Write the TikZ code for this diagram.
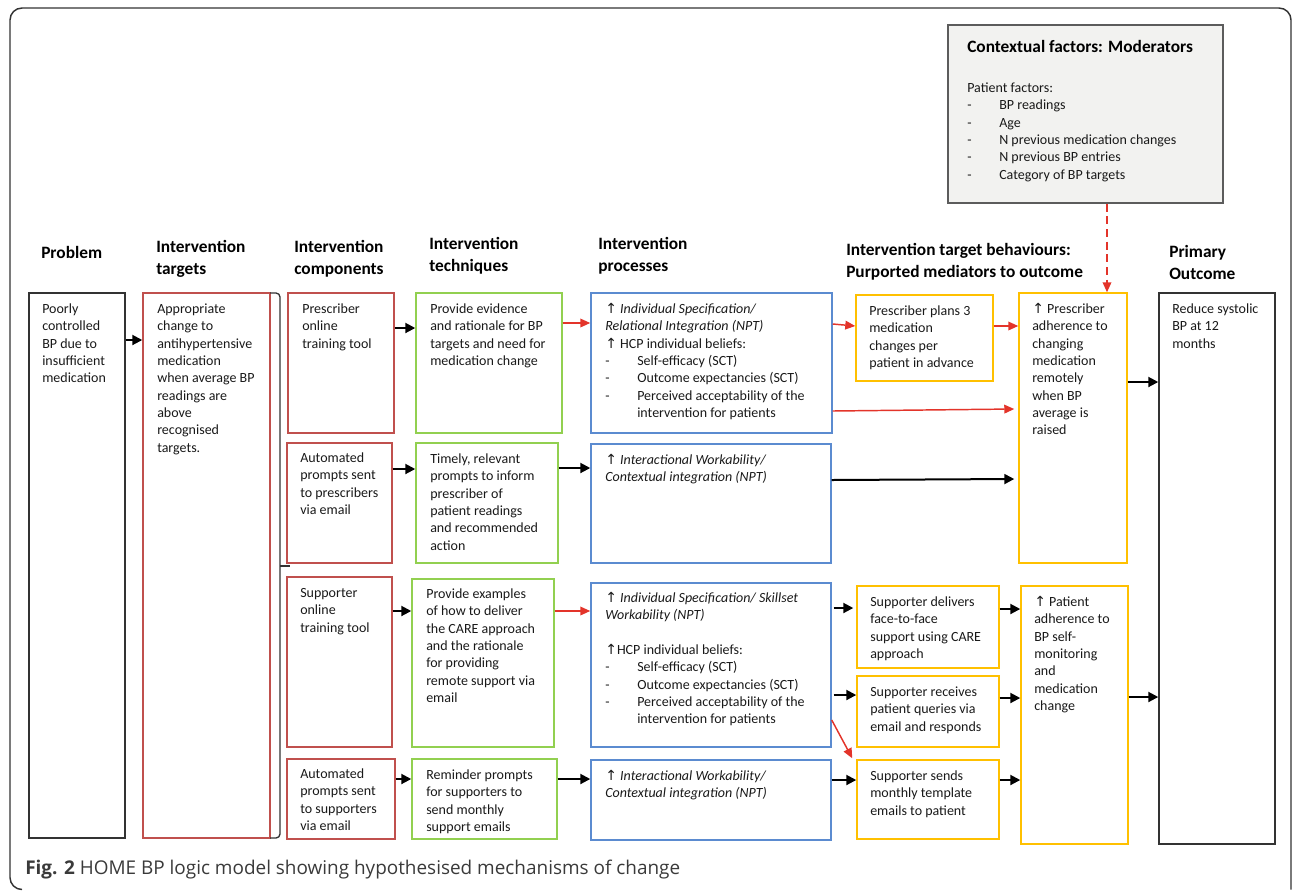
\documentclass[tikz,border=0pt]{standalone}
\usepackage{fontspec}
\setmainfont{Carlito}
\newfontfamily\symf{DejaVu Sans}
\newfontfamily\capf{Open Sans}
\usetikzlibrary{arrows.meta,fit,calc}
\definecolor{cred}{HTML}{C0504D}
\definecolor{cgreen}{HTML}{92D050}
\definecolor{cblue}{HTML}{5B8BD0}
\definecolor{cyel}{HTML}{FFC000}
\definecolor{arred}{HTML}{E3342A}
\definecolor{framec}{HTML}{333333}
\definecolor{ctxfill}{HTML}{F2F2F0}
\definecolor{capc}{HTML}{3A3A3A}
\newcommand\up{{\symf ↑}}
\newcommand\dsh{\makebox[24pt][l]{-}}
\newcommand\bx[6]{\node[#2, fit={(#3,#4) (#5,#6)}] (#1) {};}
\newcommand\tx[4]{\node[txt] (#1) at (#2,#3-8) {\strut #4};}
\newcommand\hd[4]{\node[hdr] (#1) at (#2,#3-10.4) {\strut #4};}
\tikzset{
  basebox/.style={draw, line width=1.1pt, inner sep=0pt},
  blackbox/.style={basebox, draw=framec},
  redbox/.style={basebox, draw=cred},
  greenbox/.style={basebox, draw=cgreen},
  bluebox/.style={basebox, draw=cblue},
  yelbox/.style={basebox, draw=cyel},
  ctxbox/.style={basebox, draw=framec!80, fill=ctxfill},
  txt/.style={anchor=north west, inner sep=0pt, align=left, text=black!90, font=\fontsize{10.5}{13}\selectfont},
  hdr/.style={anchor=north west, inner sep=0pt, align=left, font=\bfseries\fontsize{13}{16}\selectfont},
  blk/.style={line width=1.5pt, -{Triangle[length=7.5pt,width=7.5pt]}},
  rd/.style={draw=arred, line width=1.1pt, -{Triangle[length=7.5pt,width=6.5pt]}},
}
\begin{document}
\begin{tikzpicture}[x=0.75pt, y=-0.75pt]
\useasboundingbox (0,0) rectangle (1292,890);
% frame
\draw[framec, line width=1.1pt, rounded corners=9] (22,889.5) -- (10,889.5) -- (10,8) -- (1291,8) -- (1291,889.5);
% headers
\hd{h1}{41}{254}{Problem}
\hd{h2}{156}{248}{Intervention\\targets}
\hd{h3}{294}{248}{Intervention\\components}
\hd{h4}{429}{245}{Intervention\\techniques}
\hd{h5}{598}{245}{Intervention\\processes}
\hd{h6}{846}{251}{Intervention target behaviours:\\Purported mediators to outcome}
\hd{h7}{1169}{253}{Primary\\Outcome}
% boxes
\bx{prob}{blackbox}{29}{293}{125}{838}
\bx{targ}{redbox}{143}{293}{270}{838}
\bx{c1}{redbox}{288}{293}{394}{433}
\bx{c2}{redbox}{287}{443}{392}{563}
\bx{c3}{redbox}{287}{577}{392}{747}
\bx{c4}{redbox}{287}{759}{395}{839}
\bx{t1}{greenbox}{416}{293}{562}{433}
\bx{t2}{greenbox}{416}{443}{558}{563}
\bx{t3}{greenbox}{412}{579}{554}{747}
\bx{t4}{greenbox}{412}{759}{557}{839}
\bx{p1}{bluebox}{591}{293}{832}{433}
\bx{p2}{bluebox}{591}{444}{831}{563}
\bx{p3}{bluebox}{591}{583}{831}{747}
\bx{p4}{bluebox}{591}{760}{831}{840}
\bx{b1}{yelbox}{856}{295}{993}{381}
\bx{b2}{yelbox}{1019}{293}{1127}{563}
\bx{b3}{yelbox}{857}{586}{999}{668}
\bx{b4}{yelbox}{857}{676}{999}{747}
\bx{b5}{yelbox}{857}{760}{999}{839}
\bx{b6}{yelbox}{1021}{586}{1128}{844}
\bx{outc}{blackbox}{1159}{293}{1275}{844}
\bx{ctx}{ctxbox}{948}{25}{1223}{203}
% bracket
\draw[framec, line width=1pt] (270,293) -- (276,293) to[out=0,in=90] (280,297) -- (280,834) to[out=-90,in=0] (276,838) -- (270,838);
\draw[framec, line width=1pt] (280,566) -- (290,566);
% texts
\tx{tprob}{42}{309}{Poorly\\controlled\\BP due to\\insufficient\\medication}
\tx{ttarg}{157}{309}{Appropriate\\change to\\antihypertensive\\medication\\when average BP\\readings are\\above\\recognised\\targets.}
\tx{tc1}{302}{309}{Prescriber\\online\\training tool}
\tx{tc2}{300}{458}{Automated\\prompts sent\\to prescribers\\via email}
\tx{tc3}{300}{593}{Supporter\\online\\training tool}
\tx{tc4}{300}{774}{Automated\\prompts sent\\to supporters\\via email}
\tx{tt1}{430}{309}{Provide evidence\\and rationale for BP\\targets and need for\\medication change}
\tx{tt2}{430}{459}{Timely, relevant\\prompts to inform\\prescriber of\\patient readings\\and recommended\\action}
\tx{tt3}{426}{594}{Provide examples\\of how to deliver\\the CARE approach\\and the rationale\\for providing\\remote support via\\email}
\tx{tt4}{426}{775}{Reminder prompts\\for supporters to\\send monthly\\support emails}
\tx{tp1}{605}{309}{\up\ \textit{Individual Specification/}\\\textit{Relational Integration (NPT)}\\\up\ HCP individual beliefs:\\\dsh Self-efficacy (SCT)\\\dsh Outcome expectancies (SCT)\\\dsh Perceived acceptability of the\\\hspace*{24pt}intervention for patients}
\tx{tp2}{605}{460}{\up\ \textit{Interactional Workability/}\\\textit{Contextual integration (NPT)}}
\tx{tp3}{605}{598}{\up\ \textit{Individual Specification/ Skillset}\\\textit{Workability (NPT)}\\[13pt]\up HCP individual beliefs:\\\dsh Self-efficacy (SCT)\\\dsh Outcome expectancies (SCT)\\\dsh Perceived acceptability of the\\\hspace*{24pt}intervention for patients}
\tx{tp4}{605}{776}{\up\ \textit{Interactional Workability/}\\\textit{Contextual integration (NPT)}}
\tx{tb1}{869}{311}{Prescriber plans 3\\medication\\changes per\\patient in advance}
\tx{tb2}{1032}{309}{\up\ Prescriber\\adherence to\\changing\\medication\\remotely\\when BP\\average is\\raised}
\tx{tb3}{870}{602}{Supporter delivers\\face-to-face\\support using CARE\\approach}
\tx{tb4}{870}{692}{Supporter receives\\patient queries via\\email and responds}
\tx{tb5}{870}{776}{Supporter sends\\monthly template\\emails to patient}
\tx{tb6}{1034}{602}{\up\ Patient\\adherence to\\BP self-\\monitoring\\and\\medication\\change}
\tx{tout}{1172}{309}{Reduce systolic\\BP at 12\\months}
% contextual
\node[hdr] (ctxt) at (967,40) {Contextual factors: Moderators};
\tx{ctxl}{967}{88}{Patient factors:\\\dsh BP readings\\\dsh Age\\\dsh N previous medication changes\\\dsh N previous BP entries\\\dsh Category of BP targets}
% caption
\node[anchor=west, inner sep=0pt, text=capc, font=\capf\fontsize{14.2}{17}\selectfont] (cap) at (25,870) {\textbf{Fig. 2} HOME BP logic model showing hypothesised mechanisms of change};
% connectors
\draw[blk] (prob.east |- 0,340) -- (targ.west |- 0,340);
\draw[blk] (c1.east |- 0,328) -- (t1.west |- 0,328);
\draw[blk] (c2.east |- 0,469) -- (t2.west |- 0,469);
\draw[blk] (c3.east |- 0,611) -- (t3.west |- 0,611);
\draw[blk] (c4.east |- 0,779) -- (t4.west |- 0,779);
\draw[rd] (t1.east |- 0,323) -- (p1.west |- 0,323);
\draw[blk] (t2.east |- 0,468) -- (p2.west |- 0,468);
\draw[rd] (t3.east |- 0,611) -- (p3.west |- 0,611);
\draw[blk] (t4.east |- 0,779) -- (p4.west |- 0,779);
\draw[rd] (p1.east |- 0,324) -- (b1.west |- 0,326);
\draw[rd] (p1.east |- 0,411) -- ($(b2.west |- 0,409)+(-4,0)$);
\draw[rd] (b1.east |- 0,326) -- (b2.west |- 0,326);
\draw[blk] (p2.east |- 0,480) -- ($(b2.west |- 0,479)+(-4,0)$);
\draw[blk] (b2.east |- 0,382) -- (outc.west |- 0,382);
\draw[blk] ($(p3.east |- 0,608)+(2,0)$) -- ($(b3.west |- 0,608)+(-3,0)$);
\draw[blk] ($(p3.east |- 0,695)+(2,0)$) -- (b4.west |- 0,695);
\draw[rd] (p3.east |- 0,720) -- ($(b5.north west)+(-4,-1)$);
\draw[blk] (p4.east |- 0,780) -- (b5.west |- 0,780);
\draw[blk] (b3.east |- 0,609) -- (b6.west |- 0,609);
\draw[blk] (b4.east |- 0,698) -- (b6.west |- 0,698);
\draw[blk] (b5.east |- 0,780) -- (b6.west |- 0,780);
\draw[blk] (b6.east |- 0,697) -- (outc.west |- 0,697);
\draw[rd, dashed, dash pattern=on 6pt off 3.5pt] (1107,0 |- ctx.south) -- (1107,0 |- b2.north);
\end{tikzpicture}
\end{document}
